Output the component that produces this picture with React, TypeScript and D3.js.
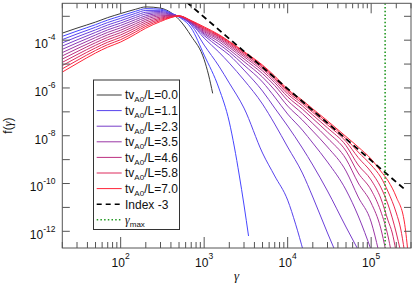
import React from 'react';
import * as d3 from 'd3';

// ---------- data ----------
const gammaDomain: [number, number] = [20, 3e5];
const fDomain: [number, number] = [2e-13, 3.5e-3];

const xLabelDecades = [2, 3, 4, 5];
const yLabelDecades = [-4, -6, -8, -10, -12];
const yTickDecades = [-3, -4, -5, -6, -7, -8, -9, -10, -11, -12];

const legendTimes = ['0.0', '1.1', '2.3', '3.5', '4.6', '5.8', '7.0'];
const legendCurveIndex = [0, 2, 4, 6, 8, 10, 12];

const curve00 = [[20,1.98e-4],[30,3.21e-4],[50,5.72e-4],[70,8.83e-4],[100,1.30e-3],[150,1.96e-3],[200,2.47e-3],[300,2.20e-3],[400,1.43e-3],[500,7.35e-4],[700,1.48e-4],[1000,1.54e-5],[1130,3.47e-6],[1265,5.94e-7]];
const curve01 = [[20,1.45e-4],[30,2.41e-4],[50,4.46e-4],[70,6.96e-4],[100,1.03e-3],[150,1.61e-3],[200,2.09e-3],[300,1.98e-3],[400,1.37e-3],[500,9.26e-4],[700,3.21e-4],[1000,2.38e-5],[1500,9.90e-7],[2000,3.74e-8],[2300,3.37e-9],[2630,2.27e-10],[3000,1.26e-11],[3400,6.36e-13]];
const curve02 = [[20,1.06e-4],[30,1.82e-4],[50,3.48e-4],[70,5.49e-4],[100,8.22e-4],[150,1.32e-3],[200,1.76e-3],[300,1.78e-3],[400,1.32e-3],[500,9.82e-4],[700,4.28e-4],[1000,6.24e-5],[1500,8.25e-6],[2000,1.60e-6],[3000,1.44e-7],[5000,1.89e-9],[7000,2.07e-10],[1e4,2.02e-11],[12450,1.99e-12],[15500,1.36e-13]];
const curve03 = [[20,7.74e-5],[30,1.37e-4],[50,2.71e-4],[70,4.33e-4],[100,6.53e-4],[150,1.08e-3],[200,1.48e-3],[300,1.59e-3],[400,1.26e-3],[500,9.91e-4],[700,4.81e-4],[1000,1.22e-4],[1500,3.18e-5],[2000,1.10e-5],[3000,2.14e-6],[5000,2.12e-7],[7000,3.09e-8],[1e4,3.37e-9],[1.5e4,2.75e-10],[2e4,2.72e-11],[3e4,8.49e-13],[36600,1.65e-13]];
const curve04 = [[20,5.66e-5],[30,1.03e-4],[50,2.12e-4],[70,3.42e-4],[100,5.20e-4],[150,8.84e-4],[200,1.25e-3],[300,1.43e-3],[400,1.21e-3],[500,1.00e-3],[700,5.05e-4],[1000,1.56e-4],[1500,5.14e-5],[2000,2.38e-5],[3000,5.61e-6],[5000,7.42e-7],[7000,1.44e-7],[1e4,2.55e-8],[1.5e4,3.06e-9],[2e4,5.94e-10],[3e4,4.86e-11],[5e4,1.51e-12],[7e4,1.65e-13]];
const curve05 = [[20,4.14e-5],[30,7.74e-5],[50,1.65e-4],[70,2.70e-4],[100,4.14e-4],[150,7.24e-4],[200,1.05e-3],[300,1.28e-3],[400,1.17e-3],[500,1.01e-3],[700,5.29e-4],[1000,1.80e-4],[1500,6.87e-5],[2000,3.18e-5],[3000,9.08e-6],[5000,1.77e-6],[7000,4.16e-7],[1e4,8.09e-8],[1.5e4,1.73e-8],[2e4,4.95e-9],[3e4,7.94e-10],[5e4,5.35e-11],[7e4,4.37e-12],[1e5,1.65e-13]];
const curve06 = [[20,3.03e-5],[30,5.83e-5],[50,1.29e-4],[70,2.13e-4],[100,3.30e-4],[150,5.93e-4],[200,8.89e-4],[300,1.15e-3],[400,1.12e-3],[500,1.01e-3],[700,5.50e-4],[1000,2.02e-4],[1500,8.73e-5],[2000,4.04e-5],[3000,1.27e-5],[5000,2.86e-6],[7000,8.17e-7],[1e4,1.75e-7],[1.5e4,4.54e-8],[2e4,1.57e-8],[3e4,3.37e-9],[5e4,3.33e-10],[7e4,2.72e-11],[1e5,2.45e-12],[1.22e5,1.65e-13]];
const curve07 = [[20,2.21e-5],[30,4.39e-5],[50,1.00e-4],[70,1.68e-4],[100,2.62e-4],[150,4.86e-4],[200,7.50e-4],[300,1.04e-3],[400,1.08e-3],[500,1.02e-3],[700,5.72e-4],[1000,2.27e-4],[1500,1.05e-4],[2000,5.00e-5],[3000,1.65e-5],[5000,4.00e-6],[7000,1.26e-6],[1e4,2.97e-7],[1.5e4,8.49e-8],[2e4,3.24e-8],[3e4,8.01e-9],[5e4,1.06e-9],[7e4,1.05e-10],[1e5,1.53e-11],[1.3e5,1.37e-12],[1.49e5,1.65e-13]];
const curve08 = [[20,1.62e-5],[30,3.30e-5],[50,7.83e-5],[70,1.32e-4],[100,2.09e-4],[150,3.98e-4],[200,6.32e-4],[300,9.29e-4],[400,1.03e-3],[500,1.02e-3],[700,5.94e-4],[1000,2.52e-4],[1500,1.20e-4],[2000,5.89e-5],[3000,2.04e-5],[5000,5.19e-6],[7000,1.68e-6],[1e4,4.24e-7],[1.5e4,1.31e-7],[2e4,5.24e-8],[3e4,1.43e-8],[5e4,2.29e-9],[7e4,2.75e-10],[1e5,5.35e-11],[1.3e5,7.07e-12],[1.6e5,5.77e-13],[1.72e5,1.65e-13]];
const curve09 = [[20,1.18e-5],[30,2.48e-5],[50,6.11e-5],[70,1.04e-4],[100,1.66e-4],[150,3.26e-4],[200,5.33e-4],[300,8.34e-4],[400,9.93e-4],[500,1.03e-3],[700,6.12e-4],[1000,2.78e-4],[1500,1.35e-4],[2000,6.73e-5],[3000,2.40e-5],[5000,6.30e-6],[7000,2.10e-6],[1e4,5.55e-7],[1.5e4,1.78e-7],[2e4,7.35e-8],[3e4,2.14e-8],[5e4,3.89e-9],[7e4,5.94e-10],[1e5,1.40e-10],[1.3e5,2.47e-11],[1.6e5,2.70e-12],[1.79e5,8.49e-13],[1.97e5,1.65e-13]];
const curve10 = [[20,8.65e-6],[30,1.87e-5],[50,4.76e-5],[70,8.24e-5],[100,1.32e-4],[150,2.67e-4],[200,4.49e-4],[300,7.49e-4],[400,9.53e-4],[500,1.03e-3],[700,6.30e-4],[1000,3.03e-4],[1500,1.48e-4],[2000,7.56e-5],[3000,2.75e-5],[5000,7.35e-6],[7000,2.47e-6],[1e4,6.73e-7],[1.5e4,2.25e-7],[2e4,9.44e-8],[3e4,2.86e-8],[5e4,5.72e-9],[7e4,1.22e-9],[1e5,3.03e-10],[1.3e5,7.14e-11],[1.6e5,1.26e-11],[2e5,8.49e-13],[2.23e5,1.65e-13]];
const curve11 = [[20,6.33e-6],[30,1.41e-5],[50,3.72e-5],[70,6.51e-5],[100,1.05e-4],[150,2.19e-4],[200,3.79e-4],[300,6.72e-4],[400,9.15e-4],[500,1.04e-3],[700,6.42e-4],[1000,3.30e-4],[1500,1.60e-4],[2000,8.33e-5],[3000,3.09e-5],[5000,8.25e-6],[7000,2.80e-6],[1e4,7.79e-7],[1.5e4,2.67e-7],[2e4,1.14e-7],[3e4,3.57e-8],[5e4,7.48e-9],[7e4,2.08e-9],[1e5,5.94e-10],[1.3e5,1.87e-10],[1.6e5,4.41e-11],[2e5,5.83e-12],[2.26e5,1.25e-12],[2.49e5,1.65e-13]];
const curve12 = [[20,4.63e-6],[30,1.06e-5],[50,2.90e-5],[70,5.13e-5],[100,8.38e-5],[150,1.79e-4],[200,3.19e-4],[300,6.03e-4],[400,8.79e-4],[500,1.04e-3],[700,6.61e-4],[1000,3.60e-4],[1500,1.71e-4],[2000,8.91e-5],[3000,3.33e-5],[5000,9.08e-6],[7000,3.15e-6],[1e4,8.83e-7],[1.5e4,3.06e-7],[2e4,1.33e-7],[3e4,4.20e-8],[5e4,9.25e-9],[7e4,3.37e-9],[1e5,1.06e-9],[1.3e5,3.33e-10],[1.6e5,1.27e-10],[2e5,2.72e-11],[2.5e5,2.45e-12],[2.74e5,1.65e-13]];

const curves = [curve00, curve01, curve02, curve03, curve04, curve05, curve06, curve07, curve08, curve09, curve10, curve11, curve12];

const indexLine = [[500, 7.36e-3], [2.55e5, 5.55e-11]];
const gammaMax = 1.47e5;

// ---------- layout / style ----------
const W = 415, H = 284;
const L = 62.3, R = 411, T = 3.3, B = 248;
const FONT = '"Liberation Sans", Arial, Helvetica, sans-serif';
const SERIF = '"Liberation Serif", "DejaVu Serif", serif';
const FRAME = '#555';
const GREEN = '#229922';

function curveColor(i: number): string {
  if (i === 0) return '#3a3a3a';
  return d3.interpolateRgb('#4646ff', '#ff2438')((i - 1) / 11);
}

export default function App() {
  const x = d3.scaleLog().domain(gammaDomain).range([L, R]);
  const y = d3.scaleLog().domain(fDomain).range([B, T]);
  const line = d3.line<number[]>()
    .x((d) => x(d[0]))
    .y((d) => y(d[1]))
    .curve(d3.curveMonotoneX);
  const straight = d3.line<number[]>().x((d) => x(d[0])).y((d) => y(d[1]));

  const xMinor: number[] = [];
  for (let e = 1; e <= 5; e++) {
    for (let k = 1; k <= 9; k++) {
      const v = k * Math.pow(10, e);
      if (v >= gammaDomain[0] && v <= gammaDomain[1]) xMinor.push(v);
    }
  }

  const legendY0 = 95;
  const legendDy = 15.6;

  return (
    <svg width={W} height={H} style={{ position: 'absolute', left: 0, top: 0, background: '#fff' }}
      fontFamily={FONT}>
      <defs>
        <clipPath id="plotclip">
          <rect x={L} y={T} width={R - L} height={B - T} />
        </clipPath>
      </defs>
      <rect x={0} y={0} width={W} height={H} fill="#fff" />

      <g clipPath="url(#plotclip)">
        {curves.map((c, i) => (
          <path key={i} d={line(c) || ''} fill="none" stroke={curveColor(i)} strokeWidth={1} />
        ))}
        <path d={straight(indexLine) || ''} fill="none" stroke="#000" strokeWidth={1.8} strokeDasharray="6,4" />
        <line x1={x(gammaMax)} x2={x(gammaMax)} y1={T} y2={B} stroke={GREEN} strokeWidth={1.6} strokeDasharray="1.5,2.2" />
      </g>

      {/* frame */}
      <rect x={L} y={T} width={R - L} height={B - T} fill="none" stroke={FRAME} strokeWidth={1} />

      {/* x ticks bottom & top */}
      {xMinor.map((v, i) => {
        const major = Math.abs(Math.log10(v) - Math.round(Math.log10(v))) < 1e-9;
        const len = major ? 11 : 6;
        const xx = x(v);
        return (
          <g key={'xt' + i}>
            <line x1={xx} x2={xx} y1={B} y2={B - len} stroke={FRAME} strokeWidth={1} />
            <line x1={xx} x2={xx} y1={T} y2={T + (major ? 10 : 5)} stroke={FRAME} strokeWidth={1} />
          </g>
        );
      })}
      {/* y ticks left & right */}
      {yTickDecades.map((e) => {
        const yy = y(Math.pow(10, e));
        return (
          <g key={'yt' + e}>
            <line x1={L} x2={L + 7.5} y1={yy} y2={yy} stroke={FRAME} strokeWidth={1} />
            <line x1={R} x2={R - 7} y1={yy} y2={yy} stroke={FRAME} strokeWidth={1} />
          </g>
        );
      })}

      {/* x tick labels */}
      {xLabelDecades.map((e) => (
        <text key={'xl' + e} x={x(Math.pow(10, e))} y={266.5} textAnchor="middle" fontSize={12} fill="#111">
          10<tspan dy={-8} fontSize={8.5}>{e}</tspan>
        </text>
      ))}
      {/* y tick labels */}
      {yLabelDecades.map((e) => (
        <text key={'yl' + e} x={55.5} y={y(Math.pow(10, e)) + 7.8} textAnchor="end" fontSize={12} fill="#111">
          10<tspan dy={-7.5} fontSize={8.5}>{'-' + Math.abs(e)}</tspan>
        </text>
      ))}

      {/* axis titles */}
      <text x={(L + R) / 2} y={280} textAnchor="middle" fontSize={13} fontFamily={SERIF} fontStyle="italic" fill="#111">γ</text>
      <text transform={`translate(12,${(T + B) / 2}) rotate(-90)`} textAnchor="middle" fontSize={12} fill="#111">
        f(<tspan fontFamily={SERIF} fontStyle="italic">γ</tspan>)
      </text>

      {/* legend */}
      <rect x={93.5} y={80} width={86} height={149.5} fill="#fff" stroke="#333" strokeWidth={1} />
      {legendTimes.map((t, k) => {
        const ly = legendY0 + k * legendDy;
        return (
          <g key={'lg' + k}>
            <line x1={96.7} x2={121.7} y1={ly} y2={ly} stroke={curveColor(legendCurveIndex[k])} strokeWidth={1} />
            <text x={125} y={ly + 4.3} fontSize={12} fill="#111">
              tv<tspan dy={3} fontSize={8}>A0</tspan><tspan dy={-3}>/L={t}</tspan>
            </text>
          </g>
        );
      })}
      <line x1={96.7} x2={121.7} y1={legendY0 + 7 * legendDy} y2={legendY0 + 7 * legendDy} stroke="#000" strokeWidth={1.6} strokeDasharray="5,4" />
      <text x={125} y={legendY0 + 7 * legendDy + 4.3} fontSize={12} fill="#111">Index -3</text>
      <line x1={96.7} x2={121.7} y1={legendY0 + 8 * legendDy} y2={legendY0 + 8 * legendDy} stroke={GREEN} strokeWidth={1.6} strokeDasharray="1.5,2.2" />
      <text x={125} y={legendY0 + 8 * legendDy + 4.3} fontSize={12} fill="#111">
        <tspan fontFamily={SERIF} fontStyle="italic">γ</tspan><tspan dy={3} fontSize={8}>max</tspan>
      </text>
    </svg>
  );
}
